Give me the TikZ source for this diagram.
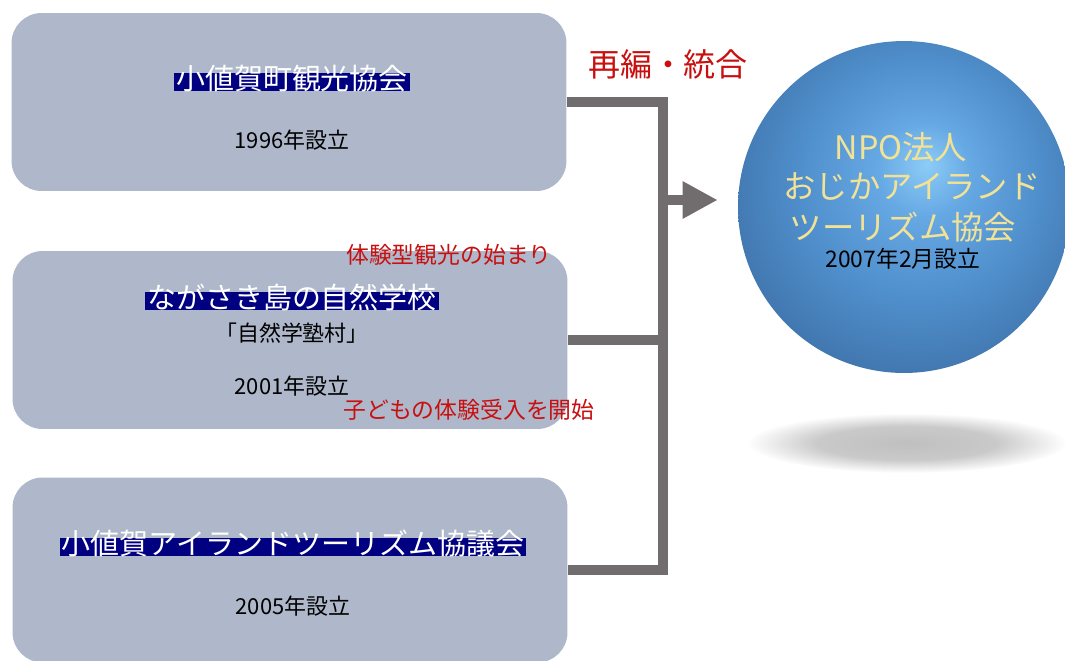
\documentclass[tikz,border=0pt]{standalone}
\usepackage{fontspec}
\setmainfont{Noto Sans CJK JP}
\usetikzlibrary{
    arrows.meta,
    positioning
}

\definecolor{boxgray}{RGB}{174,184,202}
\definecolor{bargray}{RGB}{113,109,110}
\definecolor{titlenavy}{RGB}{0,0,128}
\definecolor{notered}{RGB}{200,16,16}
\definecolor{npoyellow}{RGB}{242,226,150}

\pgfdeclareradialshading{npoball}{\pgfpoint{3.5bp}{6.5bp}}{%
    rgb(0bp)=(0.55,0.80,0.97);
    rgb(7bp)=(0.40,0.66,0.89);
    rgb(18bp)=(0.31,0.56,0.80);
    rgb(28bp)=(0.26,0.47,0.69);
    rgb(33bp)=(0.23,0.41,0.61);
    rgb(50bp)=(0.23,0.41,0.61)}
\pgfdeclareradialshading{nposhadow}{\pgfpointorigin}{%
    rgb(0bp)=(0.75,0.75,0.75);
    rgb(14bp)=(0.79,0.79,0.79);
    rgb(25bp)=(1,1,1);
    rgb(50bp)=(1,1,1)}

\begin{document}
\begin{tikzpicture}[x=0.02cm, y=-0.02cm,
    orgbox/.style={rectangle, fill=boxgray, rounded corners=0.6cm,
        minimum width=11.1cm, minimum height=3.56cm},
    orgtitle/.style={fill=titlenavy, text=white, inner xsep=1pt, inner ysep=0pt,
        text height=0.93em, text depth=0.13em, font=\fontsize{16.5pt}{19pt}\selectfont},
    orgnote/.style={inner sep=0pt, font=\fontsize{12.5pt}{15pt}\selectfont},
    rednote/.style={text=notered, inner sep=0pt, font=\fontsize{13pt}{15pt}\selectfont},
    npotext/.style={text=npoyellow, inner sep=0pt, font=\fontsize{18.4pt}{22.8pt}\selectfont},
    bar/.style={draw=bargray, line width=0.2cm}
]
\useasboundingbox (0,0) rectangle (1065,660);

% Boxes
\node[orgbox] (kanko) at (289,102) {};
\node[orgtitle] (kankoname) at (292,82) {小値賀町観光協会};
\node[orgnote] (kankoyear) at (292,140) {1996年設立};

\node[orgbox] (shizen) at (290,340) {};
\node[orgtitle] (shizenname) at (292,301) {ながさき島の自然学校};
\node[orgnote] (shizensub) at (292,333) {「自然学塾村」};
\node[orgnote] (shizenyear) at (292,386) {2001年設立};

\node[orgbox, minimum height=3.7cm] (kyogikai) at (290,570) {};
\node[orgtitle] (kyogikainame) at (293,547) {小値賀アイランドツーリズム協議会};
\node[orgnote] (kyogikaiyear) at (293,606) {2005年設立};

% Sphere and shadow
\shade[shading=nposhadow] (907,443) ellipse (3.2cm and 0.6cm);
\node[circle, minimum size=6.64cm, shade, shading=npoball] (npo) at (904,207) {};
\node[npotext] (npo1) at (901,147) {NPO法人};
\node[npotext] (npo2) at (912,187) {おじかアイランド};
\node[npotext] (npo3) at (903,227) {ツーリズム協会};
\node[orgnote, font=\fontsize{13pt}{15pt}\selectfont] (npoyear) at (903,259) {2007年2月設立};

% Connectors
\coordinate (bus) at (663,0);
\coordinate (split) at (663,200);
\draw[bar] (kanko.east) -- (kanko.east -| bus) -- (kyogikai.east -| bus) -- (kyogikai.east);
\draw[bar] (shizen.east) -- (shizen.east -| bus);
\draw[bar, -{Triangle[length=0.7cm, width=0.7cm]}, shorten >=0.4cm] (split) -- (split -| npo.west);

% Notes
\node[text=notered, inner sep=0pt, font=\fontsize{18.2pt}{21pt}\selectfont] (merge) at (668,64) {再編・統合};
\node[rednote] (start) at (449,255) {体験型観光の始まり};
\node[rednote] (kids) at (469,410) {子どもの体験受入を開始};

\end{tikzpicture}
\end{document}
